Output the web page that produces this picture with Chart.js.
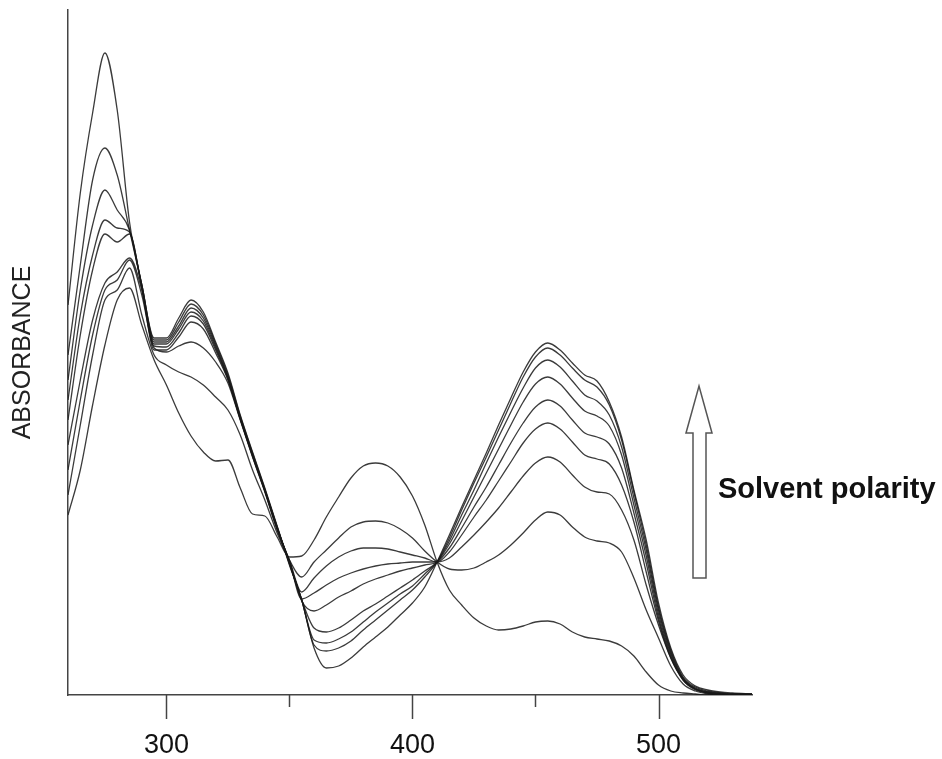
<!DOCTYPE html>
<html>
<head>
<meta charset="utf-8">
<script src="https://cdn.jsdelivr.net/npm/chart.js@4.4.0/dist/chart.umd.min.js"></script>
<style>
  html, body { margin: 0; padding: 0; background: #fff; }
</style>
</head>
<body>
<canvas id="chart" width="942" height="759"></canvas>
<script>
// wavelength grid (nm) shared by all spectra
const wavelengths = [260, 265, 270, 275, 280, 285, 290, 295, 300, 305, 310, 315, 320, 325, 330, 335, 340, 345, 350,
  355, 360, 365, 370, 375, 380, 385, 390, 395, 400, 405, 410,
  415, 420, 425, 430, 435, 440, 445, 450, 455, 460, 465, 470, 475, 480, 485, 490, 495, 500, 505, 510, 515, 520, 525, 530, 538];

// absorbance, most polar solvent first
const curve1 = [0.390, 0.502, 0.582, 0.642, 0.585, 0.473, 0.410, 0.357, 0.357, 0.377, 0.395, 0.383, 0.353, 0.322, 0.280, 0.243, 0.207, 0.169, 0.130,
  0.095, 0.047, 0.027, 0.029, 0.037, 0.048, 0.058, 0.068, 0.080, 0.092, 0.108, 0.133,
  0.160, 0.188, 0.215, 0.242, 0.270, 0.297, 0.323, 0.343, 0.352, 0.345, 0.332, 0.320, 0.314, 0.293, 0.258, 0.205, 0.155, 0.092, 0.047, 0.020, 0.009, 0.005, 0.003, 0.002, 0.001];
const curve2 = [0.340, 0.430, 0.515, 0.547, 0.520, 0.465, 0.410, 0.355, 0.355, 0.373, 0.391, 0.380, 0.351, 0.320, 0.279, 0.242, 0.206, 0.168, 0.131,
  0.095, 0.050, 0.044, 0.047, 0.054, 0.065, 0.075, 0.085, 0.095, 0.105, 0.118, 0.133,
  0.157, 0.185, 0.212, 0.238, 0.265, 0.292, 0.318, 0.338, 0.347, 0.340, 0.327, 0.315, 0.308, 0.290, 0.255, 0.203, 0.150, 0.088, 0.045, 0.018, 0.008, 0.004, 0.002, 0.001, 0.001];
const curve3 = [0.315, 0.405, 0.470, 0.505, 0.485, 0.465, 0.410, 0.353, 0.353, 0.369, 0.387, 0.377, 0.349, 0.318, 0.278, 0.241, 0.205, 0.168, 0.132,
  0.095, 0.055, 0.052, 0.056, 0.063, 0.073, 0.083, 0.092, 0.101, 0.109, 0.121, 0.133,
  0.154, 0.180, 0.205, 0.232, 0.258, 0.283, 0.307, 0.327, 0.335, 0.328, 0.314, 0.300, 0.294, 0.280, 0.248, 0.197, 0.145, 0.085, 0.043, 0.017, 0.007, 0.003, 0.002, 0.001, 0.001];
const curve4 = [0.295, 0.380, 0.440, 0.475, 0.467, 0.463, 0.408, 0.351, 0.351, 0.366, 0.383, 0.374, 0.347, 0.317, 0.277, 0.240, 0.205, 0.167, 0.132,
  0.095, 0.067, 0.063, 0.067, 0.075, 0.084, 0.091, 0.099, 0.107, 0.115, 0.124, 0.133,
  0.151, 0.174, 0.198, 0.222, 0.246, 0.270, 0.293, 0.311, 0.318, 0.311, 0.297, 0.284, 0.279, 0.269, 0.240, 0.190, 0.139, 0.081, 0.041, 0.016, 0.006, 0.003, 0.001, 0.001, 0.000];
const curve5 = [0.275, 0.360, 0.425, 0.461, 0.453, 0.461, 0.407, 0.349, 0.348, 0.362, 0.379, 0.371, 0.345, 0.316, 0.276, 0.239, 0.204, 0.167, 0.133,
  0.094, 0.084, 0.090, 0.098, 0.104, 0.111, 0.116, 0.120, 0.124, 0.127, 0.130, 0.133,
  0.147, 0.167, 0.188, 0.208, 0.230, 0.252, 0.272, 0.288, 0.295, 0.289, 0.275, 0.262, 0.258, 0.251, 0.227, 0.182, 0.132, 0.077, 0.039, 0.015, 0.006, 0.002, 0.001, 0.000, 0.000];
const curve6 = [0.250, 0.315, 0.375, 0.412, 0.423, 0.437, 0.405, 0.345, 0.345, 0.358, 0.373, 0.366, 0.342, 0.315, 0.276, 0.239, 0.204, 0.166, 0.134,
  0.096, 0.102, 0.110, 0.117, 0.122, 0.126, 0.129, 0.131, 0.132, 0.133, 0.133, 0.133,
  0.143, 0.160, 0.178, 0.195, 0.214, 0.233, 0.252, 0.266, 0.272, 0.266, 0.253, 0.240, 0.236, 0.231, 0.210, 0.173, 0.123, 0.074, 0.037, 0.015, 0.005, 0.002, 0.001, 0.000, 0.000];
const curve7 = [0.225, 0.295, 0.360, 0.405, 0.415, 0.435, 0.400, 0.347, 0.343, 0.349, 0.353, 0.347, 0.333, 0.312, 0.275, 0.238, 0.203, 0.165, 0.135,
  0.103, 0.117, 0.129, 0.138, 0.144, 0.147, 0.147, 0.146, 0.143, 0.140, 0.137, 0.133,
  0.137, 0.148, 0.160, 0.173, 0.187, 0.203, 0.219, 0.232, 0.238, 0.233, 0.220, 0.208, 0.203, 0.201, 0.185, 0.155, 0.110, 0.070, 0.037, 0.016, 0.006, 0.002, 0.001, 0.000, 0.000];
const curve8 = [0.200, 0.270, 0.340, 0.395, 0.405, 0.427, 0.380, 0.340, 0.330, 0.323, 0.318, 0.310, 0.298, 0.285, 0.260, 0.225, 0.195, 0.162, 0.135,
  0.118, 0.133, 0.145, 0.157, 0.168, 0.173, 0.174, 0.172, 0.166, 0.157, 0.144, 0.133,
  0.126, 0.125, 0.127, 0.133, 0.140, 0.150, 0.162, 0.175, 0.183, 0.180, 0.168, 0.158, 0.154, 0.152, 0.143, 0.117, 0.085, 0.057, 0.029, 0.011, 0.004, 0.001, 0.000, 0.000, 0.000];
const curve9 = [0.180, 0.225, 0.290, 0.350, 0.395, 0.407, 0.370, 0.335, 0.310, 0.282, 0.259, 0.243, 0.234, 0.235, 0.207, 0.181, 0.179, 0.158, 0.138,
  0.139, 0.155, 0.178, 0.198, 0.217, 0.229, 0.232, 0.229, 0.218, 0.199, 0.170, 0.133,
  0.105, 0.090, 0.077, 0.069, 0.065, 0.066, 0.069, 0.073, 0.074, 0.071, 0.063, 0.058, 0.056, 0.054, 0.049, 0.039, 0.023, 0.010, 0.004, 0.002, 0.001, 0.000, 0.000, 0.000, 0.000];

const xTicks = [300, 350, 400, 450, 500];
const xTickLabels = ['300', '', '400', '', '500'];

const curves = [curve1, curve2, curve3, curve4, curve5, curve6, curve7, curve8, curve9];

const datasets = curves.map((c, n) => ({
    label: 'spectrum ' + (n + 1),
    data: wavelengths.map((w, i) => ({ x: w, y: c[i] })),
    borderColor: 'rgba(25,25,25,0.85)',
    borderWidth: 1.3,
    pointRadius: 0,
    fill: false,
    cubicInterpolationMode: 'monotone'
}));

// tick marks of two lengths, the arrow and its caption
const decorations = {
    id: 'decorations',
    afterDraw(chart) {
        const ctx = chart.ctx;
        const xs = chart.scales.x;
        const bottom = chart.chartArea.bottom;
        ctx.save();
        ctx.strokeStyle = '#444';
        ctx.lineWidth = 1.5;
        xTicks.forEach((v, i) => {
            const px = Math.round(xs.getPixelForValue(v)) + 0.5;
            const len = xTickLabels[i] ? 24 : 12;
            ctx.beginPath();
            ctx.moveTo(px, bottom);
            ctx.lineTo(px, bottom + len);
            ctx.stroke();
        });

        // hollow arrow
        ctx.beginPath();
        ctx.moveTo(693, 578);
        ctx.lineTo(693, 433);
        ctx.lineTo(686, 433);
        ctx.lineTo(699, 386);
        ctx.lineTo(712, 433);
        ctx.lineTo(706, 433);
        ctx.lineTo(706, 578);
        ctx.closePath();
        ctx.fillStyle = '#fff';
        ctx.fill();
        ctx.strokeStyle = '#555';
        ctx.lineWidth = 1.5;
        ctx.stroke();

        ctx.fillStyle = '#111';
        ctx.font = 'bold 29px "Liberation Sans", Arial, sans-serif';
        ctx.textAlign = 'left';
        ctx.textBaseline = 'alphabetic';
        ctx.fillText('Solvent polarity', 718, 498);
        ctx.restore();
    }
};

new Chart(document.getElementById('chart').getContext('2d'), {
    type: 'line',
    data: { datasets: datasets },
    plugins: [decorations],
    options: {
        responsive: false,
        animation: false,
        layout: { padding: { left: 0, right: 190, top: 10, bottom: 0 } },
        plugins: {
            legend: { display: false },
            tooltip: { enabled: false },
            title: { display: false }
        },
        scales: {
            x: {
                type: 'linear',
                min: 260,
                max: 538,
                afterBuildTicks: (scale) => { scale.ticks = xTicks.map(v => ({ value: v })); },
                ticks: {
                    autoSkip: false,
                    maxRotation: 0,
                    padding: 0,
                    color: '#111',
                    font: { family: '"Liberation Sans", Arial, sans-serif', size: 27, lineHeight: '26px' },
                    callback: (v) => xTickLabels[xTicks.indexOf(v)] || ''
                },
                grid: { drawOnChartArea: false, drawTicks: true, tickLength: 38, tickColor: 'rgba(0,0,0,0)' },
                border: { display: true, color: '#444', width: 1.5 }
            },
            y: {
                min: 0,
                max: 0.685,
                ticks: { display: false },
                grid: { drawOnChartArea: false, drawTicks: false },
                border: { display: true, color: '#444', width: 1.5 },
                title: {
                    display: true,
                    text: 'ABSORBANCE',
                    color: '#222',
                    font: { family: '"Liberation Sans", Arial, sans-serif', size: 25 },
                    padding: { top: 8, bottom: 30 }
                }
            }
        }
    }
});
</script>
</body>
</html>
